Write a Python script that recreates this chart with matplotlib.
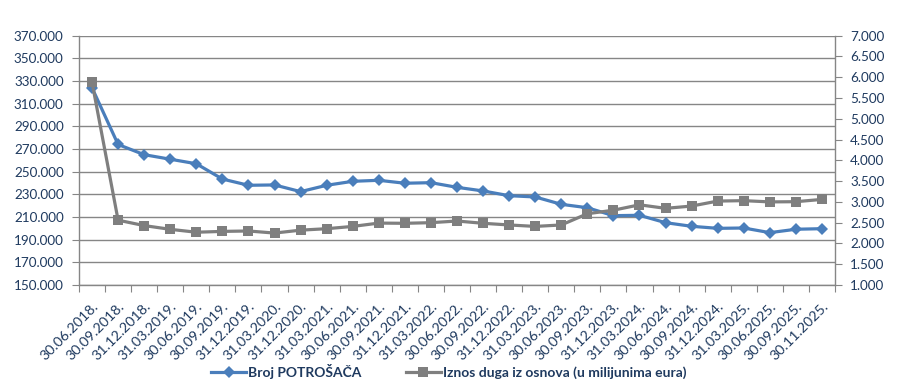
import matplotlib
matplotlib.use('Agg')
import matplotlib.pyplot as plt
import numpy as np

categories = ["30.06.2018.", "30.09.2018.", "31.12.2018.", "31.03.2019.", "30.06.2019.",
              "30.09.2019.", "31.12.2019.", "31.03.2020.", "31.12.2020.", "31.03.2021.",
              "30.06.2021.", "30.09.2021.", "31.12.2021.", "31.03.2022.", "30.06.2022.",
              "30.09.2022.", "31.12.2022.", "31.03.2023.", "30.06.2023.", "30.09.2023.",
              "31.12.2023.", "31.03.2024.", "30.06.2024.", "30.09.2024.", "31.12.2024.",
              "31.03.2025.", "30.06.2025.", "30.09.2025.", "30.11.2025."]

consumers = [324000, 274000, 265000, 261000, 257000, 243500, 238000, 238300, 232400, 238000,
             241500, 242400, 239800, 240300, 236200, 233000, 228800, 227700, 221200, 218200,
             211200, 211500, 205000, 201800, 200000, 200300, 196200, 199200, 199700]

debt = [5880, 2560, 2430, 2340, 2270, 2290, 2300, 2250, 2320, 2355,
        2410, 2490, 2485, 2500, 2540, 2485, 2445, 2410, 2445, 2715,
        2800, 2930, 2845, 2900, 3020, 3030, 3000, 3005, 3060]

left_ticks = list(range(150000, 370001, 20000))
right_ticks = list(range(1000, 7001, 500))

series_names = ["Broj POTROŠAČA", "Iznos duga iz osnova (u milijunima eura)"]

BLUE = '#4A7EBB'
GRAY = '#7F7F7F'
GRID = '#868686'
TXT = '#1F3A5F'
FONT = 'Lato'

plt.rcParams['font.family'] = [FONT, 'DejaVu Sans']


def fmt(v):
    return f"{int(round(v)):,}".replace(',', '.')


fig = plt.figure(figsize=(9.03, 3.86), dpi=100)
ax = fig.add_axes([79 / 903, 1 - 285 / 386, (835 - 79) / 903, (285 - 35.7) / 386])
x = np.arange(len(categories))

l1, = ax.plot(x, consumers, color=BLUE, lw=2.3, marker='D', ms=6.2,
              markeredgewidth=0, label=series_names[0], zorder=3)
ax2 = ax.twinx()
l2, = ax2.plot(x, debt, color=GRAY, lw=2.3, marker='s', ms=7.8,
               markeredgewidth=0, label=series_names[1], zorder=3)

ax.set_xlim(-0.5, len(categories) - 0.5)
ax.set_ylim(left_ticks[0], left_ticks[-1])
ax2.set_ylim(right_ticks[0], right_ticks[-1])

ax.set_yticks(left_ticks)
ax.set_yticklabels([fmt(v) for v in left_ticks])
ax2.set_yticks(right_ticks)
ax2.set_yticklabels([fmt(v) for v in right_ticks])

ax.yaxis.grid(True, color=GRID, lw=1.0)
ax.set_axisbelow(True)

# x ticks: marks at boundaries, labels at centers
ax.set_xticks(np.arange(-0.5, len(categories), 1.0))
ax.set_xticklabels([])
ax.set_xticks(x, minor=True)
ax.set_xticklabels(categories, minor=True, rotation=45, ha='right', va='top',
                   rotation_mode='anchor')
ax.tick_params(axis='x', which='major', length=5, color=GRID, direction='out')
ax.tick_params(axis='x', which='minor', length=0, pad=11, labelsize=10.3, labelcolor=TXT)
ax.tick_params(axis='y', length=5, color=GRID, pad=6, labelsize=9.7, labelcolor=TXT)
ax2.tick_params(axis='y', length=5, color=GRID, pad=6, labelsize=9.7, labelcolor=TXT)

for a in (ax, ax2):
    a.spines['top'].set_visible(False)
    for s in ('left', 'right', 'bottom'):
        a.spines[s].set_color(GRID)
        a.spines[s].set_linewidth(1.0)
ax2.spines['left'].set_visible(False)
ax2.spines['bottom'].set_visible(False)
ax.spines['right'].set_visible(False)

fig.legend([l1, l2], series_names, loc='center', bbox_to_anchor=(0.497, 0.037),
           ncol=2, frameon=False, handlelength=2.5, handletextpad=0.15,
           columnspacing=3.2, prop={'family': FONT, 'weight': 'bold', 'size': 10},
           labelcolor=TXT)

fig.savefig('out.png', dpi=100)
